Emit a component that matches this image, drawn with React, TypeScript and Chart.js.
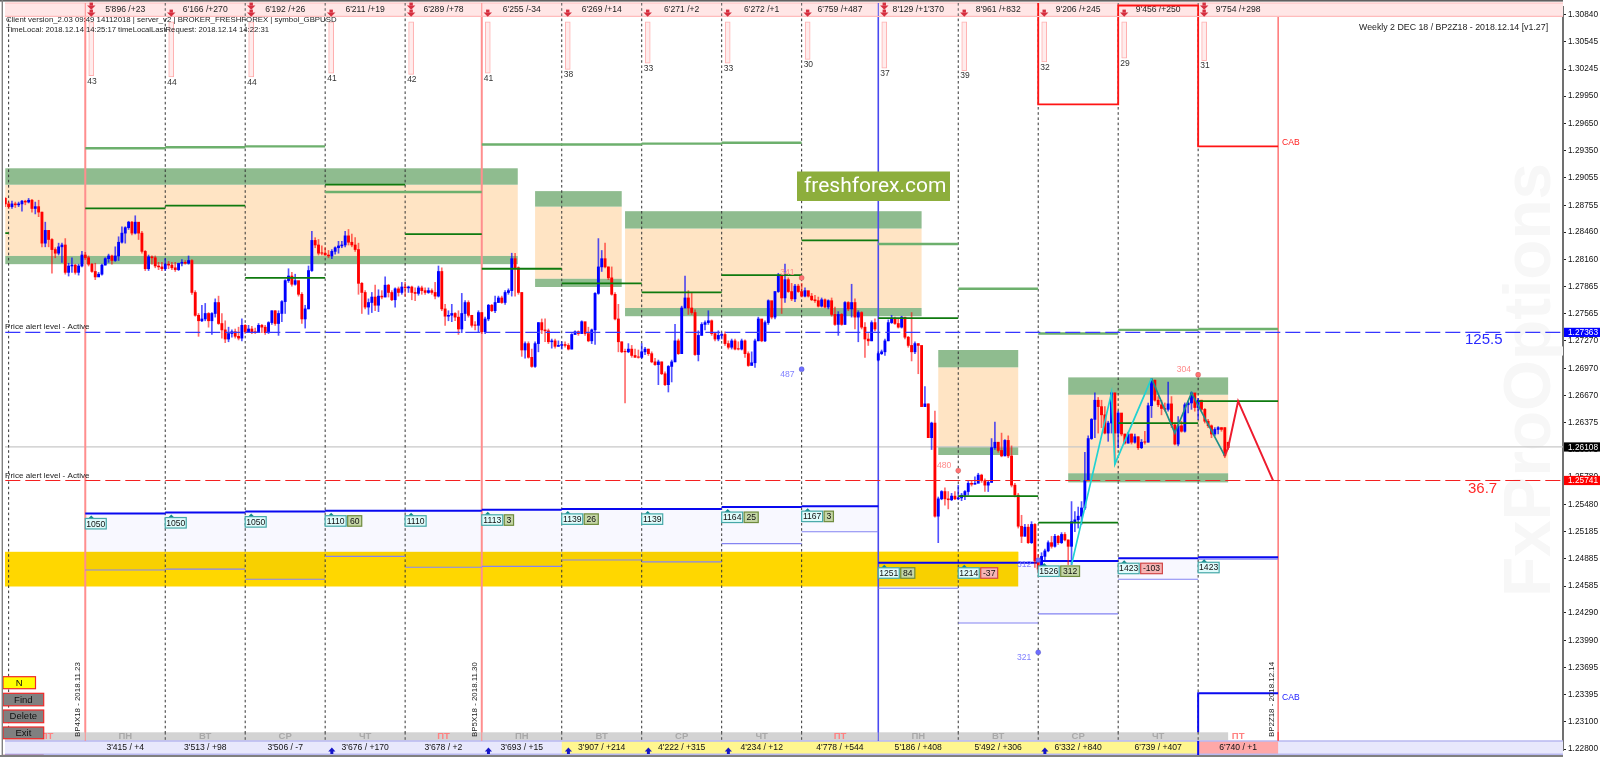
import React, { useEffect, useRef } from "react";
import { Chart, registerables } from "chart.js";
Chart.register(...registerables);

// ---- candle prices, in 1/10000 of GBPUSD ----
const firstOpen = 12883;
const gapOpens: Record<number, number> = { 262: 12706, 366: 12632, 367: 12616 };
const closes = [
12877,12874,12877,12876,12877,12880,12879,12881,12872,12874,
12868,12834,12848,12838,12827,12823,12830,12832,12802,12809,
12810,12802,12809,12821,12818,12811,12803,12797,12800,12810,
12817,12820,12815,12820,12835,12845,12851,12857,12845,12857,
12845,12825,12806,12819,12818,12809,12808,12806,12811,12810,
12807,12805,12812,12813,12812,12815,12780,12755,12749,12751,
12757,12749,12757,12769,12746,12739,12729,12735,12737,12732,
12730,12744,12737,12740,12737,12736,12744,12742,12736,12747,
12760,12746,12757,12770,12793,12798,12789,12793,12778,12751,
12762,12804,12837,12832,12823,12823,12821,12820,12825,12829,
12831,12832,12842,12835,12832,12827,12790,12780,12764,12769,
12775,12766,12776,12775,12788,12780,12772,12784,12780,12786,
12785,12786,12780,12779,12785,12782,12780,12782,12780,12776,
12803,12762,12754,12755,12757,12753,12740,12757,12769,12755,
12744,12744,12758,12737,12751,12766,12760,12769,12774,12769,
12780,12782,12817,12807,12780,12717,12724,12709,12699,12724,
12747,12739,12738,12726,12727,12721,12722,12723,12722,12718,
12734,12737,12735,12748,12735,12727,12739,12779,12808,12817,
12808,12796,12778,12751,12726,12715,12715,12718,12711,12709,
12709,12715,12718,12713,12704,12701,12704,12691,12679,12699,
12704,12727,12713,12763,12774,12763,12758,12712,12733,12745,
12747,12749,12735,12729,12733,12734,12724,12720,12727,12718,
12718,12727,12713,12700,12703,12727,12751,12727,12747,12771,
12753,12781,12799,12774,12794,12781,12773,12787,12781,12776,
12782,12776,12772,12771,12765,12772,12764,12771,12756,12745,
12756,12745,12769,12762,12769,12753,12758,12742,12729,12727,
12747,12740,12713,12715,12727,12747,12751,12746,12742,12753,
12731,12722,12715,12724,12722,12655,12658,12621,12637,12535,
12554,12562,12554,12553,12557,12554,12555,12558,12562,12571,
12570,12571,12580,12574,12569,12572,12610,12616,12607,12601,
12618,12601,12569,12558,12524,12513,12523,12506,12526,12486,
12477,12491,12497,12506,12502,12513,12506,12515,12509,12502,
12529,12531,12535,12544,12574,12620,12641,12662,12655,12646,
12626,12637,12670,12626,12648,12625,12615,12625,12616,12622,
12610,12616,12616,12656,12684,12662,12657,12653,12652,12658,
12635,12614,12634,12628,12657,12659,12670,12654,12662,12652,
12639,12634,12625,12630,12632,12630,12601,12610];
const highs = [
12884,12879,12880,12879,12879,12881,12881,12883,12882,12879,
12881,12868,12857,12848,12839,12829,12834,12834,12839,12812,
12818,12811,12811,12825,12824,12820,12812,12812,12802,12811,
12818,12822,12821,12830,12841,12852,12852,12858,12858,12864,
12856,12847,12826,12821,12820,12820,12813,12813,12817,12814,
12813,12813,12812,12816,12815,12820,12816,12782,12757,12766,
12768,12758,12758,12773,12776,12757,12749,12742,12739,12740,
12742,12751,12745,12744,12743,12741,12746,12745,12744,12748,
12760,12760,12760,12771,12794,12806,12802,12800,12792,12780,
12766,12809,12847,12840,12838,12831,12829,12826,12827,12830,
12836,12836,12847,12849,12844,12840,12834,12791,12782,12773,
12780,12788,12783,12782,12797,12789,12782,12785,12786,12791,
12791,12787,12787,12785,12787,12787,12785,12785,12784,12791,
12809,12807,12767,12760,12767,12758,12760,12779,12771,12771,
12755,12748,12760,12758,12753,12767,12767,12776,12776,12776,
12782,12784,12823,12823,12808,12780,12726,12726,12718,12726,
12747,12751,12751,12740,12729,12729,12727,12726,12726,12724,
12735,12738,12738,12749,12747,12742,12740,12780,12839,12826,
12834,12808,12808,12780,12767,12726,12718,12724,12722,12718,
12717,12724,12720,12718,12715,12708,12706,12704,12693,12700,
12706,12745,12729,12765,12798,12782,12780,12761,12738,12747,
12749,12760,12750,12736,12738,12736,12737,12727,12729,12729,
12726,12729,12728,12715,12715,12729,12753,12740,12749,12772,
12764,12781,12801,12785,12811,12796,12790,12789,12789,12790,
12785,12781,12779,12777,12775,12774,12773,12772,12774,12764,
12759,12757,12770,12770,12789,12773,12760,12759,12747,12735,
12749,12751,12715,12717,12729,12750,12755,12753,12751,12754,
12751,12732,12758,12726,12724,12713,12677,12658,12638,12650,
12556,12563,12566,12562,12560,12562,12569,12560,12563,12573,
12574,12578,12582,12581,12576,12574,12620,12638,12616,12626,
12619,12623,12612,12571,12560,12536,12526,12526,12529,12527,
12493,12495,12499,12508,12513,12515,12514,12517,12517,12509,
12551,12540,12545,12551,12605,12623,12642,12670,12665,12662,
12655,12639,12670,12670,12650,12639,12625,12627,12625,12625,
12622,12619,12628,12659,12686,12684,12666,12662,12659,12682,
12666,12637,12644,12639,12659,12661,12671,12668,12664,12662,
12653,12641,12635,12632,12633,12632,12632,12616];
const lows = [
12874,12872,12872,12873,12874,12869,12876,12878,12868,12866,
12863,12830,12830,12830,12801,12818,12821,12813,12800,12798,
12802,12800,12799,12808,12816,12809,12802,12794,12798,12799,
12810,12813,12811,12814,12815,12834,12834,12849,12843,12844,
12838,12823,12804,12804,12811,12807,12805,12804,12804,12806,
12805,12803,12804,12809,12811,12811,12778,12754,12732,12748,
12749,12742,12734,12753,12745,12730,12725,12726,12731,12730,
12728,12727,12735,12736,12735,12735,12736,12736,12734,12735,
12745,12744,12733,12748,12757,12791,12787,12788,12776,12746,
12741,12762,12803,12829,12821,12821,12821,12818,12817,12822,
12823,12829,12830,12832,12830,12825,12778,12757,12762,12756,
12758,12760,12759,12773,12775,12775,12771,12764,12776,12778,
12776,12780,12772,12771,12777,12778,12778,12779,12778,12773,
12775,12760,12744,12749,12748,12749,12734,12736,12749,12753,
12742,12739,12737,12735,12735,12749,12759,12758,12769,12768,
12767,12778,12776,12776,12778,12710,12708,12708,12698,12698,
12715,12735,12726,12724,12719,12719,12721,12718,12720,12717,
12718,12734,12733,12735,12733,12726,12724,12723,12778,12803,
12807,12794,12777,12750,12715,12714,12659,12714,12709,12709,
12708,12708,12712,12711,12703,12700,12679,12690,12678,12671,
12682,12704,12712,12722,12763,12756,12756,12711,12705,12733,
12739,12745,12733,12727,12727,12729,12722,12718,12718,12717,
12717,12717,12709,12699,12702,12698,12727,12726,12726,12745,
12751,12751,12780,12757,12769,12780,12771,12770,12780,12775,
12775,12775,12771,12769,12764,12764,12763,12762,12754,12744,
12733,12744,12745,12760,12753,12740,12726,12740,12709,12722,
12727,12738,12705,12712,12711,12727,12746,12745,12741,12741,
12729,12720,12705,12713,12691,12655,12655,12635,12608,12534,
12506,12553,12547,12543,12552,12553,12553,12552,12553,12558,
12568,12570,12572,12572,12562,12562,12572,12608,12605,12600,
12601,12599,12567,12556,12522,12506,12513,12505,12505,12479,
12473,12482,12486,12496,12500,12501,12504,12505,12508,12482,
12482,12518,12522,12526,12542,12574,12619,12621,12626,12632,
12625,12617,12626,12592,12610,12623,12614,12615,12614,12615,
12608,12609,12614,12616,12643,12661,12655,12646,12650,12650,
12632,12613,12612,12627,12627,12648,12652,12650,12641,12650,
12637,12632,12621,12623,12625,12628,12599,12608];

// ---- axis ----
const priceTicks = [1.3084,1.30545,1.30245,1.2995,1.2965,1.2935,1.29055,1.28755,1.2846,1.2816,1.27865,1.27565,1.2727,1.2697,1.2667,1.26375,1.26075,1.2578,1.2548,1.25185,1.24885,1.24585,1.2429,1.2399,1.23695,1.23395,1.231,1.228];

// ---- days ----
const dayStarts = [24,48,72,96,120,143,167,191,215,239,262,286,310,334,358,382];
const dayNames = ["ПН","ВТ","СР","ЧТ","ПТ","ПН","ВТ","СР","ЧТ","ПТ","ПН","ВТ","СР","ЧТ","ПТ"];
const topLabels = ["5'896 /+23","6'166 /+270","6'192 /+26","6'211 /+19","6'289 /+78","6'255 /-34","6'269 /+14","6'271 /+2","6'272 /+1","6'759 /+487","8'129 /+1'370","8'961 /+832","9'206 /+245","9'456 /+250","9'754 /+298"];
const bottomLabels = ["3'415 / +4","3'513 / +98","3'506 / -7","3'676 / +170","3'678 / +2","3'693 / +15","3'907 / +214","4'222 / +315","4'234 / +12","4'778 / +544","5'186 / +408","5'492 / +306","6'332 / +840","6'739 / +407","6'740 / +1"];
const columnValues = [43,44,44,41,42,41,38,33,33,30,37,39,32,29,31];
const doubleArrowDays = [0,2,4,10,14];
const upArrowDays = [3,5,6,7,8,12];

// ---- per-day levels ----
const levelStarts = [24,48,72,96,120,143,167,191,215,239,262,286,310,334,358];
const weeklyUpper = [12538,12539,12540,12541,12541,12542,12543,12543,12545,12546,12484,12484,12486,12489,12490];
const weeklyLower = [12476,12477,12466,12491,12479,12480,12487,12485,12505,12518,12456,12418,12428,12466,12488];
const midLevels = [12872,12875,12796,12898,12844,12806,12790,12780,12799,12837,12752,12557,12528,12637,12661];
const highLevels = [12938,12939,12940,12890,12890,12942,12942,12943,12944,null,12833,12784,12735,12739,12740];
const badgeMain = ["1050","1050","1050","1110","1110","1113","1139","1139","1164","1167","1251","1214","1526","1423","1423"];
const badgeDelta = ["","","","60","","3","26","","25","3","84","-37","312","-103",""];

// ---- zones ----
const zoneStart = [0,159,186,280,319];
const zoneEnd = [153.8,185,275,304,367];
const zoneTop = [12916,12891,12869,12717,12687];
const zoneUpperEdge = [12898,12874,12850,12698,12668];
const zoneLowerEdge = [12820,12795,12763,12611,12582];
const zoneBottom = [12811,12786,12754,12602,12572];
const goldTop = 12496;
const goldBottom = 12458;
const goldEnd = 304;

// ---- price lines ----
const blueAlert = 1.27363;
const redAlert = 1.25741;
const lastPrice = 1.26108;

// ---- step lines & zigzags ----
const redStepBars = [310,310,334,334,358,358,382];
const redStepPrices = [13092,12986,12986,13089,13089,12940,12940];
const blueStepBars = [358,358,382];
const blueStepPrices = [12279,12341,12341];
const zigUpBars = [320,332,333,344];
const zigUpPrices = [12482,12670,12592,12686];
const zigDownBars = [344,351,356,366];
const zigDownPrices = [12686,12626,12670,12601];
const forecastBars = [366,367,370,380.5];
const forecastPrices = [12601,12610,12661,12574];

// ---- dots ----
const redDotBars = [358,286,239];
const redDotPrices = [12690,12585,12796];
const redDotLabels = ["304","480","341"];
const blueDotBars = [239,310,310];
const blueDotPrices = [12696,12386,12487];
const blueDotLabels = ["487","321","312"];

const SANS = '"Liberation Sans", Arial, sans-serif';

const toPoints = (xs: number[], ys: number[]) => xs.map((x, i) => ({ x, y: ys[i] / 10000 }));
const segments = (starts: number[], values: (number | null)[]) => {
  const pts: any[] = [];
  starts.forEach((s, i) => {
    if (values[i] == null) return;
    const end = dayStarts[dayStarts.indexOf(s) + 1];
    pts.push({ x: s, y: (values[i] as number) / 10000 }, { x: end, y: (values[i] as number) / 10000 }, { x: end, y: null });
  });
  return pts;
};

const opensList = closes.map((_, i) => gapOpens[i] ?? (i === 0 ? firstOpen : closes[i - 1]));
const isUp = closes.map((c, i) => c > opensList[i]);

const paintPlugin = {
  id: "paint",
  beforeDatasetsDraw(c: any) {
    const g = c.ctx, x = c.scales.x, y = c.scales.y, a = c.chartArea;
    const px = (v: number) => x.getPixelForValue(v);
    const py = (v: number) => y.getPixelForValue(v / 10000);
    g.save();
    g.beginPath(); g.rect(a.left, a.top, a.right - a.left, a.bottom - a.top); g.clip();
    // watermark sits behind everything
    g.save();
    g.translate(1550, 597); g.rotate(-Math.PI / 2);
    g.font = `bold 66px ${SANS}`; g.fillStyle = "#F7F7F7"; g.textAlign = "left"; g.textBaseline = "alphabetic";
    g.fillText("FxProOptions", 0, 0, 434);
    g.restore();
    // lavender weekly ranges, with gold band
    const gTop = py(goldTop), gBot = py(goldBottom);
    g.fillStyle = "#FFD700";
    g.fillRect(a.left, gTop, px(goldEnd) - a.left, gBot - gTop);
    levelStarts.forEach((s, i) => {
      const t = py(weeklyUpper[i]), b = py(weeklyLower[i]);
      const l = px(s), r = px(dayStarts[dayStarts.indexOf(s) + 1]);
      g.fillStyle = "#F8F8FF";
      g.fillRect(l, t, r - l, b - t);
      const ot = Math.max(t, gTop), ob = Math.min(b, gBot), or = Math.min(r, px(goldEnd));
      if (ob > ot && or > l) { g.fillStyle = "#F8D000"; g.fillRect(l, ot, or - l, ob - ot); }
      const gOver = Math.min(r, px(goldEnd));
      if (t > gTop && gOver > l) { g.fillStyle = "#FFD700"; g.fillRect(l, gTop, gOver - l, Math.min(t, gBot) - gTop); }
    });
    // zones
    zoneStart.forEach((s, i) => {
      const l = Math.max(px(s), a.left), r = px(zoneEnd[i]);
      g.fillStyle = "#FFE4C4";
      g.fillRect(l, py(zoneUpperEdge[i]), r - l, py(zoneLowerEdge[i]) - py(zoneUpperEdge[i]));
      g.fillStyle = "#8FBC8F";
      g.fillRect(l, py(zoneTop[i]), r - l, py(zoneUpperEdge[i]) - py(zoneTop[i]));
      g.fillRect(l, py(zoneLowerEdge[i]), r - l, py(zoneBottom[i]) - py(zoneLowerEdge[i]));
    });
    // last price
    g.strokeStyle = "#C8C8C8"; g.lineWidth = 1.2;
    const lp = y.getPixelForValue(lastPrice);
    g.beginPath(); g.moveTo(a.left, lp); g.lineTo(a.right, lp); g.stroke();
    // day separators
    [1, ...dayStarts].forEach((d) => {
      const xx = px(d);
      g.beginPath();
      if (d === 24 || d === 143) { g.setLineDash([]); g.strokeStyle = "#FF8E8E"; g.lineWidth = 2; }
      else if (d === 262) { g.setLineDash([]); g.strokeStyle = "#4A4AF0"; g.lineWidth = 1.6; }
      else if (d === 382) { g.setLineDash([]); g.strokeStyle = "#FF3030"; g.lineWidth = 1; }
      else { g.setLineDash([2.6, 2.6]); g.strokeStyle = "#333"; g.lineWidth = 1; }
      g.moveTo(xx, 3); g.lineTo(xx, a.bottom); g.stroke();
    });
    g.setLineDash([]);
    g.restore();
  },
  afterDatasetsDraw(c: any) {
    const g = c.ctx, x = c.scales.x, y = c.scales.y, a = c.chartArea, cnt = c.scales.cnt;
    const px = (v: number) => x.getPixelForValue(v);
    const py = (v: number) => y.getPixelForValue(v / 10000);
    const txt = (s: string, xx: number, yy: number, font: string, color: string, align: any = "left") => {
      g.font = font; g.fillStyle = color; g.textAlign = align; g.textBaseline = "middle"; g.fillText(s, xx, yy);
    };
    const f = (n: number, b = false) => `${b ? "bold " : ""}${n}px ${SANS}`;
    g.save();

    // column labels
    dayStarts.slice(0, 15).forEach((d, i) => {
      txt(String(columnValues[i]), px(d) + 2, cnt.getPixelForValue(columnValues[i]) + 5.5, f(8.5), "#333");
    });

    // top-left info
    txt("Client version_2.03 09:49 14112018 | server_v2 | BROKER_FRESHFOREX | symbol_GBPUSD", 6, 20, f(7.8), "#222");
    txt("TimeLocal: 2018.12.14 14:25:17 timeLocalLastRequest: 2018.12.14 14:22:31", 6, 30, f(7.7), "#222");
    txt("Weekly 2 DEC 18 / BP2Z18 - 2018.12.14 [v1.27]", 1359, 27.5, f(8.8), "#222");

    // alerts
    txt("Price alert level - Active", 5, 327, f(8.1), "#222");
    txt("Price alert level - Active", 5, 476, f(8.1), "#222");
    txt("125.5", 1465, 339.5, f(15), "#2A2AFF");
    txt("36.7", 1468, 489, f(15), "#FF2A2A");

    // CAB
    txt("CAB", 1282, 143, f(8.6), "#FF2020");
    txt("CAB", 1282, 697.5, f(8.6), "#2020FF");

    // dots' labels
    redDotBars.forEach((b, i) => txt(redDotLabels[i], px(b) - 7, py(redDotPrices[i]) - 5, f(8.6), "#FF8A8A", "right"));
    blueDotBars.forEach((b, i) => txt(blueDotLabels[i], px(b) - 7, py(blueDotPrices[i]) + 5, f(8.6), "#8080FF", "right"));

    // badges
    levelStarts.forEach((s, i) => {
      const bx = px(s), by = py(weeklyUpper[i]) + 5;
      g.fillStyle = "#0E8A8A";
      g.beginPath(); g.moveTo(bx + 6, by - 3); g.lineTo(bx + 9, by); g.lineTo(bx + 3, by); g.closePath(); g.fill();
      g.fillStyle = "#DFFBFB"; g.strokeStyle = "#45A8A8"; g.lineWidth = 1.2;
      g.fillRect(bx, by, 21, 10.5); g.strokeRect(bx, by, 21, 10.5);
      txt(badgeMain[i], bx + 10.5, by + 5.7, f(8.6), "#111", "center");
      const d = badgeDelta[i];
      if (d) {
        g.font = f(8.6);
        const w = g.measureText(d).width + 4.5;
        const neg = d.startsWith("-");
        g.fillStyle = neg ? "#F6B4B4" : "#C5D6A6"; g.strokeStyle = neg ? "#D04848" : "#6E8B3D";
        g.fillRect(bx + 22.5, by, w, 10.5); g.strokeRect(bx + 22.5, by, w, 10.5);
        txt(d, bx + 22.5 + w / 2, by + 5.7, f(8.6), "#111", "center");
      }
    });

    // green badge
    g.fillStyle = "#8DAE3C";
    g.fillRect(797, 171.5, 153, 29.5);
    txt("freshforex.com", 804, 187, `21px Roboto, ${SANS}`, "#FFFFFF");

    // top strip
    g.fillStyle = "#FFE6E6"; g.fillRect(a.left, 3, a.right - a.left, 13);
    g.strokeStyle = "#FFBCBC"; g.lineWidth = 1.2;
    g.beginPath(); g.moveTo(a.left, 16.3); g.lineTo(a.right, 16.3); g.stroke();
    g.beginPath(); g.moveTo(a.left, 3); g.lineTo(a.right, 3); g.stroke();
    dayStarts.slice(0, 15).forEach((d, i) => {
      const mid = (px(d) + px(dayStarts[i + 1])) / 2;
      txt(topLabels[i], mid, 10, f(8.6), "#222", "center");
      g.beginPath();
      if (d === 24 || d === 143) g.strokeStyle = "#FF8E8E"; else if (d === 262) g.strokeStyle = "#4A4AF0"; else g.strokeStyle = "#555";
      g.lineWidth = 1; if (!(d === 24 || d === 143 || d === 262)) g.setLineDash([2.6, 2.6]);
      g.moveTo(px(d), 3); g.lineTo(px(d), 16); g.stroke(); g.setLineDash([]);
      const ax = px(d + 1.8);
      const arrow = (ay: number) => {
        g.fillStyle = "#D62F3F";
        g.beginPath(); g.moveTo(ax - 4.2, ay - 0.6); g.lineTo(ax + 4.2, ay - 0.6); g.lineTo(ax, ay + 3.8); g.closePath(); g.fill();
        g.fillRect(ax - 1.7, ay - 3.4, 3.4, 3);
      };
      arrow(13);
      if (doubleArrowDays.includes(i)) arrow(6);
    });
    // red step line is redrawn over strip
    g.strokeStyle = "#FF1414"; g.lineWidth = 1.8;
    g.beginPath(); g.moveTo(px(310), 3); g.lineTo(px(310), 16); g.stroke();
    g.beginPath(); g.moveTo(px(334), 16); g.lineTo(px(334), 5.5); g.lineTo(px(358), 5.5); g.lineTo(px(358), 16); g.stroke();

    // bottom strips
    g.fillStyle = "#D3D3D3"; g.fillRect(a.left, 732.3, px(367) - a.left, 8.4);
    const names = ["ПТ", ...dayNames];
    [1, ...dayStarts.slice(0, 15)].forEach((d, i) => {
      const end = dayStarts[dayStarts.indexOf(d) + 1] ?? 24;
      const mid = (px(d) + px(end)) / 2;
      txt(names[i], mid, 736.8, f(9.5, true), names[i] === "ПТ" ? "#FF8080" : "#A8A8A8", "center");
    });
    // rotated contract labels
    const rot = (s: string, xx: number) => {
      g.save(); g.translate(xx, 737); g.rotate(-Math.PI / 2);
      txt(s, 0, 0, f(7.9), "#222"); g.restore();
    };
    rot("BP4X18 - 2018.11.23", 77.5);
    rot("BP5X18 - 2018.11.30", 474.5);
    rot("BP2Z18 - 2018.12.14", 1272);

    g.fillStyle = "#E8E8FC"; g.fillRect(a.left, 741, a.right - a.left, 13.2);
    g.fillStyle = "#FFF68F"; g.fillRect(px(167), 741, px(358) - px(167), 13.2);
    g.fillStyle = "#FFA8A8"; g.fillRect(px(358), 741, px(382) - px(358), 13.2);
    g.strokeStyle = "#B9B9F0"; g.lineWidth = 1.4;
    g.beginPath(); g.moveTo(a.left, 741); g.lineTo(a.right, 741); g.stroke();
    g.beginPath(); g.moveTo(a.left, 754.2); g.lineTo(a.right, 754.2); g.stroke();
    dayStarts.slice(0, 15).forEach((d, i) => {
      txt(bottomLabels[i], (px(d) + px(dayStarts[i + 1])) / 2, 748, f(8.6), "#111", "center");
    });
    dayStarts.forEach((d) => {
      g.beginPath();
      g.strokeStyle = d === 24 || d === 143 ? "#FF8E8E" : d === 262 ? "#4A4AF0" : d === 382 ? "#FF3030" : "#444";
      g.lineWidth = 1;
      if (d !== 24 && d !== 143 && d !== 262 && d !== 382) g.setLineDash([2.6, 2.6]);
      g.moveTo(px(d), 732); g.lineTo(px(d), 741); g.stroke(); g.setLineDash([]);
    });
    g.strokeStyle = "#0A0AF0"; g.lineWidth = 2;
    g.beginPath(); g.moveTo(px(358), 741); g.lineTo(px(358), 755); g.stroke();
    upArrowDays.forEach((k) => {
      const ax = px(dayStarts[k] + 2);
      g.fillStyle = "#1414C8";
      g.beginPath(); g.moveTo(ax - 3.6, 751.5); g.lineTo(ax, 747.6); g.lineTo(ax + 3.6, 751.5); g.closePath(); g.fill();
      g.fillRect(ax - 1.5, 751, 3, 3);
    });

    // buttons
    const btn = (s: string, l: number, t: number, w: number, h: number, fill: string) => {
      g.fillStyle = fill; g.fillRect(l, t, w, h);
      g.strokeStyle = "#F02828"; g.lineWidth = 1.2; g.strokeRect(l, t, w, h);
      txt(s, l + w / 2, t + h / 2 + 0.5, f(9.5), "#111", "center");
    };
    btn("N", 3, 676.7, 32.5, 12, "#FFFF00");
    btn("Find", 3, 693.3, 40.7, 12.5, "#808080");
    btn("Delete", 3, 710, 40.7, 12.7, "#808080");
    btn("Exit", 3, 727, 40.7, 11.7, "#808080");
    g.fillStyle = "#8B1030"; g.fillRect(3, 754.8, 40.7, 2.2);

    // frame
    g.fillStyle = "#606060"; g.fillRect(0, 0, 1563, 1.6);
    g.fillStyle = "#808080"; g.fillRect(1.6, 0, 1.4, 757);
    g.fillRect(0, 755, 1563, 2);

    // axis price tags
    const tag = (v: number, bg: string, fg: string) => {
      const yy = y.getPixelForValue(v);
      g.fillStyle = bg; g.fillRect(1564, yy - 4.6, 36, 9.2);
      txt(v.toFixed(5), 1568, yy + 0.3, f(8.3), fg);
    };
    tag(blueAlert, "#0000FF", "#FFFFFF");
    tag(lastPrice, "#000000", "#FFFFFF");
    tag(redAlert, "#FF0000", "#FFFFFF");
    g.restore();
  },
};

export default function App() {
  const ref = useRef<HTMLCanvasElement>(null);
  useEffect(() => {
    document.body.style.margin = "0";
    document.body.style.background = "#fff";
    const wicks = closes.map((_, i) => ({ x: i, y: [lows[i] / 10000, highs[i] / 10000] }));
    const bodies = closes.map((c, i) => ({
      x: i,
      y: [opensList[i] / 10000, (c === opensList[i] ? c + 0.5 : c) / 10000],
    }));
    const columnBars = dayStarts.slice(0, 15).map((d, i) => ({ x: d + 1.8, y: [0, columnValues[i]] }));
    const lineDs = (data: any[], color: string, width: number, order: number, extra: any = {}) => ({
      type: "line", data, borderColor: color, borderWidth: width, pointRadius: 0, order,
      spanGaps: false, tension: 0, ...extra,
    });
    const chart = new Chart(ref.current as any, {
      type: "bar",
      data: {
        datasets: [
          { data: columnBars, yAxisID: "cnt", barThickness: 5, grouped: false, backgroundColor: "#FFECEC", borderColor: "#FFB0B0", borderWidth: 1, borderSkipped: false, order: 12 },
          lineDs(segments(levelStarts, weeklyLower), "#8484F2", 1.1, 14),
          lineDs(segments(levelStarts, weeklyUpper), "#0808F0", 2, 13),
          { data: wicks, barThickness: 1, grouped: false, backgroundColor: isUp.map((u) => (u ? "rgba(0,0,255,0.68)" : "rgba(255,0,0,0.58)")), order: 11 },
          { data: bodies, barThickness: 2.2, grouped: false, backgroundColor: isUp.map((u) => (u ? "#0000FF" : "#FF0000")), order: 10 },
          lineDs(segments(levelStarts, highLevels), "#6DB06D", 2.4, 9),
          lineDs(segments(levelStarts, midLevels), "#0F7A0F", 1.8, 8),
          lineDs([{ x: 0, y: 1.2845 }, { x: 1, y: 1.2845 }], "#0F7A0F", 1.8, 8),
          lineDs([{ x: 0, y: blueAlert }, { x: 467, y: blueAlert }], "#3636FF", 1.4, 7, { borderDash: [15, 5] }),
          lineDs([{ x: 0, y: redAlert }, { x: 467, y: redAlert }], "#F42020", 1.2, 7, { borderDash: [15, 5] }),
          lineDs(toPoints(zigUpBars, zigUpPrices), "#20D2D2", 1.7, 6),
          lineDs(toPoints(zigDownBars, zigDownPrices), "#1E8F88", 1.7, 6),
          lineDs(toPoints(forecastBars, forecastPrices), "#EE1C2E", 2, 5),
          lineDs(toPoints(redStepBars, redStepPrices), "#FF1414", 1.9, 4),
          lineDs(toPoints(blueStepBars, blueStepPrices), "#0A0AF0", 2, 4),
          { type: "scatter", data: toPoints(redDotBars, redDotPrices), backgroundColor: "#FF7272", pointRadius: 2.6, order: 3 },
          { type: "scatter", data: toPoints(blueDotBars, blueDotPrices), backgroundColor: "#6E6EFF", pointRadius: 2.6, order: 3 },
        ] as any,
      },
      options: {
        responsive: false,
        animation: false,
        events: [],
        layout: { padding: { left: 3, top: 2, right: 0, bottom: 0 } },
        plugins: { legend: { display: false }, tooltip: { enabled: false }, title: { display: false } },
        scales: {
          x: {
            type: "linear", position: "bottom", min: -0.09, max: 467.5, offset: false,
            afterFit: (s: any) => { s.height = 2; },
            grid: { drawOnChartArea: false, drawTicks: false },
            border: { display: false },
            ticks: { display: false, stepSize: 16 },
          },
          y: {
            type: "linear", position: "right", min: 1.227892, max: 1.309265,
            afterFit: (s: any) => { s.width = 37; },
            afterBuildTicks: (s: any) => { s.ticks = priceTicks.map((v) => ({ value: v })); },
            grid: { drawOnChartArea: false, tickLength: 3, color: "#222", tickColor: "#222" },
            border: { color: "#707070", width: 2 },
            ticks: {
              callback: (v: any) => Number(v).toFixed(5),
              font: { family: "Liberation Sans", size: 8.3 }, color: "#111", padding: 2, autoSkip: false, maxRotation: 0, align: "center",
            },
          },
          cnt: {
            type: "linear", display: false, reverse: true, min: -11.8, max: 581.1,
          },
        } as any,
      },
      plugins: [paintPlugin as any],
    } as any);
    return () => chart.destroy();
  }, []);
  return (
    <div style={{ position: "absolute", left: 0, top: 0, width: 1600, height: 757, overflow: "hidden", background: "#fff" }}>
      <canvas ref={ref} width={1600} height={757} style={{ display: "block", width: 1600, height: 757, filter: "blur(0.3px)" }} />
    </div>
  );
}
